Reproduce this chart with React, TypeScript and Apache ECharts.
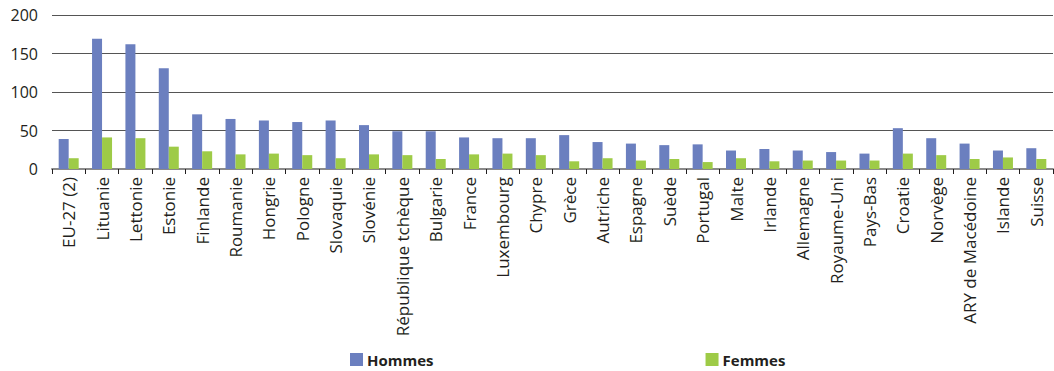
import React, { useEffect, useRef } from "react";
import * as echarts from "echarts";

const categories = [
  "EU-27 (2)", "Lituanie", "Lettonie", "Estonie", "Finlande", "Roumanie", "Hongrie", "Pologne",
  "Slovaquie", "Slovénie", "République tchèque", "Bulgarie", "France", "Luxembourg", "Chypre",
  "Grèce", "Autriche", "Espagne", "Suède", "Portugal", "Malte", "Irlande", "Allemagne",
  "Royaume-Uni", "Pays-Bas", "Croatie", "Norvège", "ARY de Macédoine", "Islande", "Suisse",
];
const hommes = [39, 169, 162, 131, 71, 65, 63, 61, 63, 57, 49, 49, 41, 40, 40, 44, 35, 33, 31, 32, 24, 26, 24, 22, 20, 53, 40, 33, 24, 27];
const femmes = [14, 41, 40, 29, 23, 19, 20, 18, 14, 19, 18, 13, 19, 20, 18, 10, 14, 11, 13, 9, 14, 10, 11, 11, 11, 20, 18, 13, 15, 13];
const yTicks = { min: 0, max: 200, interval: 50 };

const FONT = "'Open Sans', 'Noto Sans', sans-serif";

export default function App() {
  const ref = useRef<HTMLDivElement>(null);
  useEffect(() => {
    if (!ref.current) return;
    const chart = echarts.init(ref.current, undefined, { renderer: "svg" });
    chart.setOption({
      animation: false,
      textStyle: { fontFamily: FONT },
      grid: { left: 52, right: 1, top: 15, bottom: 202, containLabel: false },
      legend: {
        left: 350,
        top: 352,
        padding: 0,
        itemWidth: 13,
        itemHeight: 13,
        itemGap: 272,
        icon: "rect",
        textStyle: { fontFamily: FONT, fontSize: 15, lineHeight: 15, fontWeight: "bold", color: "#231f20", padding: [0, 0, 0, -1] },
        data: ["Hommes", "Femmes"],
      },
      xAxis: {
        type: "category",
        data: categories,
        axisLine: { lineStyle: { color: "#8a8a8a", width: 2 } },
        axisTick: { show: true, length: 5, lineStyle: { color: "#231f20" } },
        axisLabel: {
          rotate: 90,
          interval: 0,
          fontSize: 17,
          color: "#231f20",
          fontFamily: FONT,
          margin: 8,
        },
      },
      yAxis: {
        type: "value",
        min: yTicks.min,
        max: yTicks.max,
        interval: yTicks.interval,
        axisLine: { show: false },
        axisTick: { show: false },
        splitLine: { lineStyle: { color: "#555555", width: 1 } },
        axisLabel: { fontSize: 16, color: "#231f20", fontFamily: FONT, margin: 14 },
      },
      series: [
        {
          name: "Hommes",
          type: "bar",
          data: hommes,
          barWidth: 10,
          barGap: "0%",
          itemStyle: { color: "#6b7fbf" },
        },
        {
          name: "Femmes",
          type: "bar",
          data: femmes,
          barWidth: 10,
          barGap: "0%",
          itemStyle: { color: "#9ecb47" },
        },
      ],
    });
    return () => chart.dispose();
  }, []);
  return <div ref={ref} style={{ width: 1054, height: 371, position: "absolute", left: 0, top: 0 }} />;
}
